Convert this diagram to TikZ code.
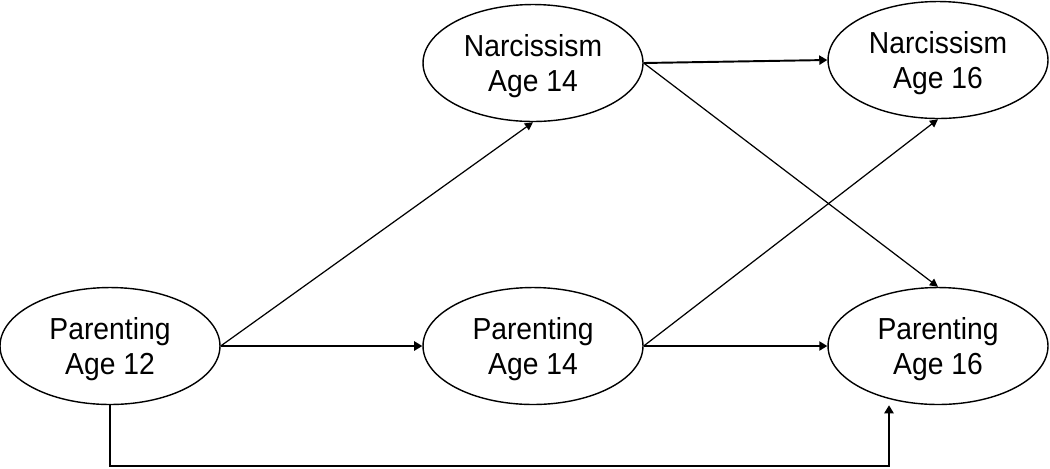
\documentclass[tikz,border=0pt]{standalone}
\usepackage{fontspec}
\setmainfont{Liberation Sans}[FakeStretch=0.93]
\usetikzlibrary{shapes.geometric,arrows.meta,calc}
\begin{document}
\begin{tikzpicture}[x=0.02cm,y=-0.02cm,
  var/.style={ellipse,draw,line width=0.8pt,minimum width=4.4cm,minimum height=2.34cm,inner sep=0pt,align=center,
    text depth=0pt,font=\fontsize{17.3pt}{19.8pt}\selectfont},
  thick arrow/.style={line width=1.1pt,-{Triangle[length=4.6pt,width=5.2pt]}},
  thin arrow/.style={line width=0.7pt,-{Triangle[length=4.6pt,width=4.6pt]}}]
\useasboundingbox (0,0) rectangle (1050,468);
\node[var] (p12) at (110,346) {Parenting\\Age 12};
\node[var] (n14) at (533,63) {Narcissism\\Age 14};
\node[var] (n16) at (938,60) {Narcissism\\Age 16};
\node[var] (p14) at (533,346) {Parenting\\Age 14};
\node[var] (p16) at (938,346) {Parenting\\Age 16};
\coordinate (p16in) at ($(p16.south)+(-49,0)$);
\draw[thick arrow] (p12.east) -- (p14.west);
\draw[thick arrow] (p14.east) -- (p16.west);
\draw[thick arrow] (n14.east) -- (n16.west);
\draw[thin arrow] (p12.east) -- (n14.south);
\draw[thin arrow] (p14.east) -- (n16.south);
\draw[thin arrow] (n14.east) -- (p16.north);
\draw[thick arrow] (p12.south) -- (p12.south |- 0,466) -| (p16in);
\end{tikzpicture}
\end{document}
